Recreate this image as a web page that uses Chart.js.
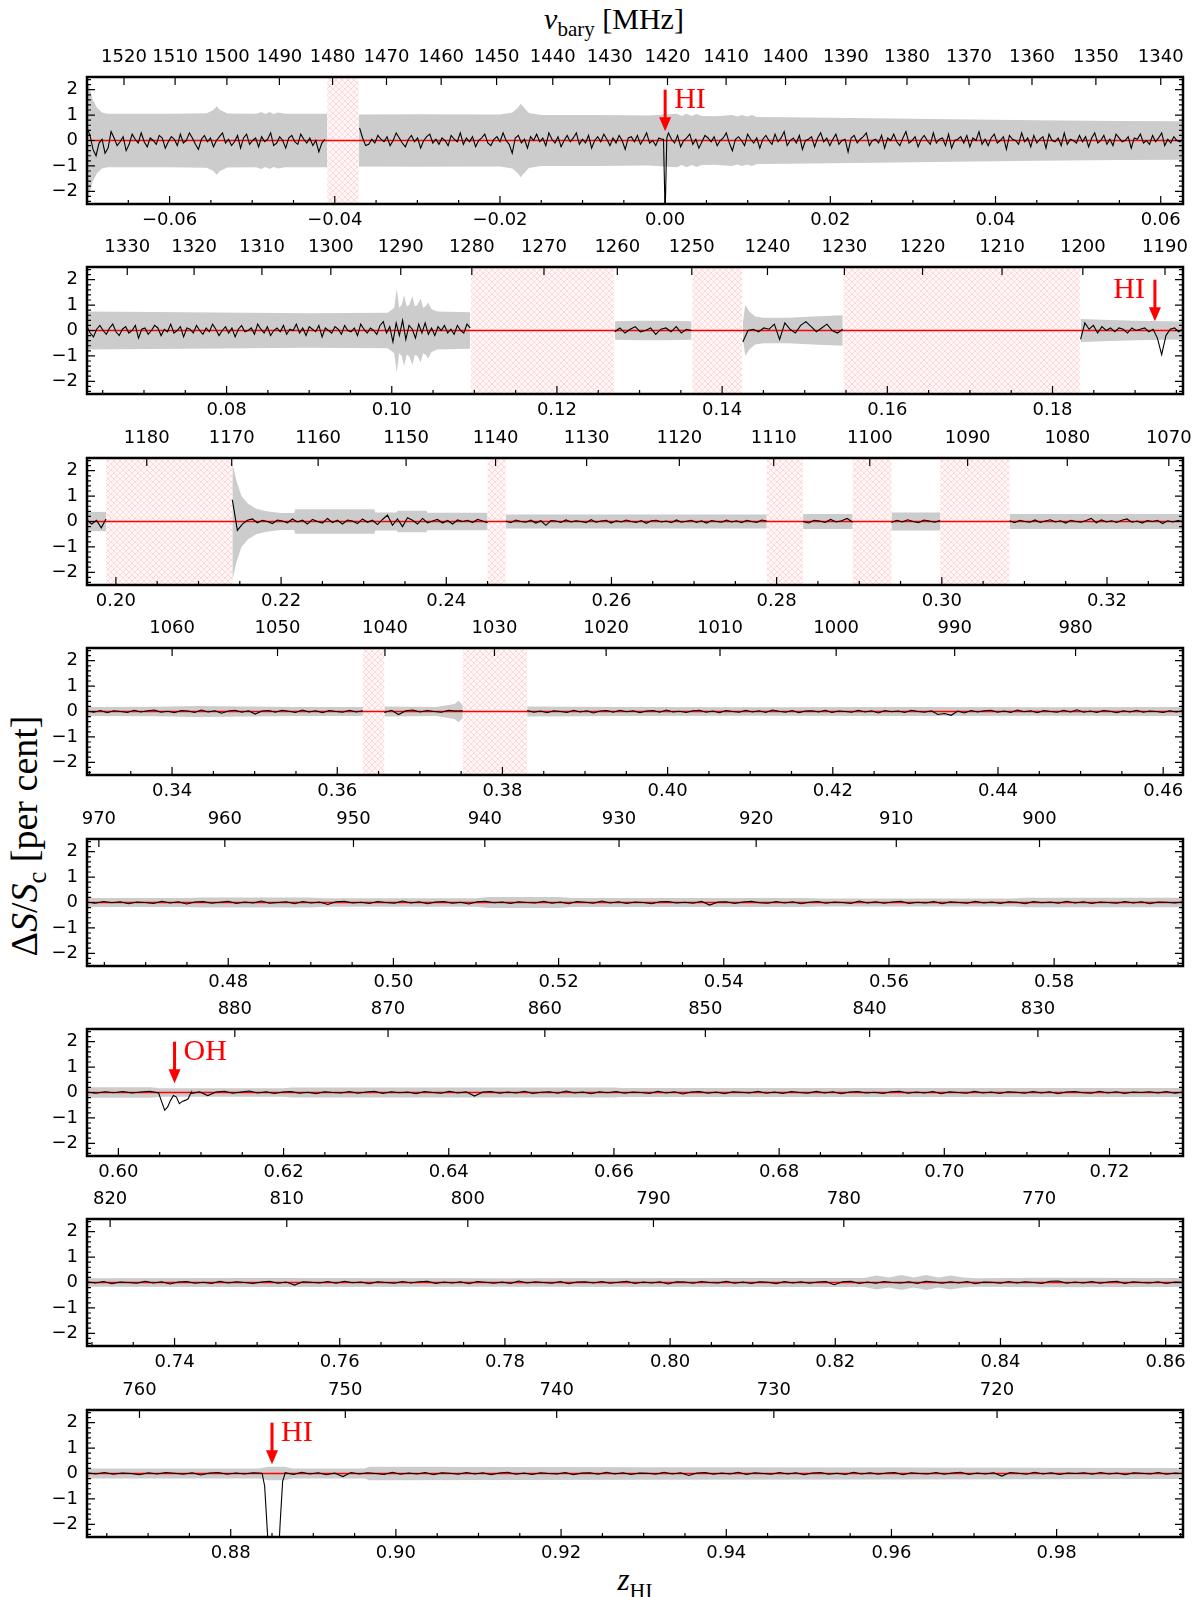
<!DOCTYPE html>
<html>
<head>
<meta charset="utf-8">
<script src="https://cdn.jsdelivr.net/npm/chart.js@4.4.1/dist/chart.umd.min.js"></script>
<style>
  html, body { margin: 0; padding: 0; background: #fff; }
  body { width: 1200px; height: 1597px; position: relative; overflow: hidden; }
  canvas.panel { position: absolute; left: 0; }
  .lbl { position: absolute; font-family: "Liberation Serif", serif; color: #000; white-space: nowrap; transform: translate(-50%, -50%); }
  .lbl .sub { font-size: 0.7em; position: relative; top: 0.35em; }
</style>
</head>
<body>
<div class="lbl" style="left:614px; top:19px; font-size:30px;"><i>ν</i><span class="sub">bary</span> [MHz]</div>
<div class="lbl" style="left:24px; top:836px; font-size:38px; transform:translate(-50%,-50%) rotate(-90deg);">Δ<i>S</i>/<i>S</i><span class="sub">c</span> [per cent]</div>
<div class="lbl" style="left:635px; top:1580px; font-size:31px;"><i>z</i><span class="sub">HI</span></div>
<script>
const NU0 = 1420.405751; // HI rest frequency, MHz

// redshift range of the eight panels
const zLo = [-0.0700, 0.0631, 0.1965, 0.3297, 0.4629, 0.5962, 0.7294, 0.8626];
const zHi = [0.0627, 0.1958, 0.3292, 0.4624, 0.5956, 0.7289, 0.8621, 0.9953];

// ticks
const zTickStep = 0.02;
const zMinorStep = 0.005;
const freqTickStep = 10;
const yTicks = [-2, -1, 0, 1, 2];
const yMinorStep = 0.2;

// spectrum pieces: [z start, z end] and the values between
const spec1Z = [[-0.0700, -0.0412], [-0.0370, -0.0004], [-0.0002, 0.0002], [0.0004, 0.0627]];
const spec1 = [
  [0.5, 0.2, -0.35, -0.6, -0.1, 0.05, -0.5, -0.3, 0.35, 0.1, -0.2, -0.05, 0.15, -0.4, -0.15, 0.25, 0.05, -0.1, 0.3, -0.05,
   -0.25, 0.1, 0.0, -0.15, 0.2, 0.1, -0.3, -0.05, 0.15, 0.05, -0.2, 0.25, -0.1, 0.0, 0.3, 0.1, -0.15, -0.35, 0.05, 0.2,
   -0.05, 0.1, -0.25, 0.0, 0.15, 0.3, -0.1, 0.05, -0.2, -0.05, 0.2, -0.3, 0.1, 0.25, -0.15, 0.0, 0.1, -0.25, 0.15, -0.05,
   0.05, 0.3, -0.2, -0.1, 0.15, 0.0, -0.3, 0.1, 0.2, -0.05, -0.15, 0.25, 0.05, -0.1, 0.1, -0.2, 0.0, -0.45, -0.1, 0.05],
  [0.5, 0.1, -0.2, -0.15, 0.05, -0.1, 0.2, 0.05, -0.05, 0.15, -0.2, 0.0, 0.3, 0.1, -0.1, -0.25, 0.05, 0.2, -0.05, 0.1,
   -0.3, 0.0, 0.15, 0.25, -0.1, 0.05, -0.15, 0.1, 0.0, -0.2, 0.2, 0.05, -0.05, 0.3, -0.15, 0.1, -0.05, 0.15, -0.25, 0.0,
   0.1, 0.25, -0.1, -0.2, 0.05, 0.15, -0.05, 0.3, 0.0, -0.15, -0.5, 0.1, 0.2, -0.1, 0.05, -0.3, 0.15, 0.0, 0.25, -0.05,
   0.1, -0.2, 0.3, 0.05, -0.1, 0.15, -0.25, 0.0, 0.2, -0.05, 0.1, 0.3, -0.15, 0.05, -0.1, 0.2, -0.3, 0.0, 0.15, -0.05,
   0.25, 0.05, -0.2, 0.1, -0.1, 0.2, 0.0, -0.35, 0.1, 0.15, -0.05, 0.2, -0.15, 0.05, 0.3, -0.1, 0.0, -0.2, 0.1, 0.05],
  [0.05, -2.9, 0.1],
  [0.3, 0.05, -0.1, 0.2, -0.25, 0.0, 0.1, 0.25, -0.15, 0.05, -0.3, -0.05, 0.2, 0.1, -0.05, 0.15, -0.2, 0.0, 0.1, 0.3,
   -0.1, -0.4, 0.05, 0.15, 0.0, -0.2, 0.25, 0.05, -0.1, 0.1, -0.3, 0.05, 0.2, 0.0, -0.15, 0.25, -0.05, 0.1, 0.35, -0.2,
   0.0, 0.1, -0.1, 0.2, -0.35, 0.0, 0.05, 0.15, -0.25, 0.1, 0.3, -0.05, 0.1, -0.2, 0.05, 0.25, -0.15, 0.0, 0.05, -0.45,
   0.1, 0.2, -0.1, 0.05, 0.15, 0.3, -0.2, 0.0, 0.05, -0.1, 0.2, -0.3, 0.1, 0.0, 0.25, -0.05, -0.2, 0.1, 0.35, -0.1,
   0.0, 0.15, -0.25, 0.05, 0.2, 0.0, -0.15, 0.3, -0.1, 0.05, 0.1, -0.2, 0.25, -0.3, 0.0, 0.05, 0.15, -0.1, 0.2, -0.25,
   0.1, 0.0, 0.35, -0.15, 0.05, -0.2, 0.1, 0.25, -0.1, 0.0, 0.15, -0.35, 0.2, 0.05, 0.0, -0.15, 0.3, -0.05, 0.1, -0.25,
   0.2, -0.1, 0.05, 0.15, -0.3, 0.25, 0.0, -0.05, 0.1, -0.2, 0.3, -0.15, 0.05, 0.0, -0.1, 0.2, -0.05, 0.15, -0.25, 0.1,
   0.3, -0.1, 0.0, 0.2, -0.15, 0.05, -0.2, 0.25, 0.1, -0.05, 0.0, 0.15, -0.3, 0.1, 0.05, 0.25, -0.1, 0.0, -0.15, 0.2,
   -0.05, 0.1, 0.3, -0.2, 0.05, -0.1, 0.15, 0.0, -0.05, 0.05]
];
const spec2Z = [[0.0631, 0.1095], [0.1270, 0.1363], [0.1425, 0.1546], [0.1834, 0.1958]];
const spec2 = [
  [0.15, -0.1, -0.25, 0.05, 0.2, 0.0, -0.15, 0.1, 0.25, -0.05, -0.2, 0.05, 0.15, -0.1, 0.0, 0.2, -0.3, 0.05, 0.1, -0.15,
   0.0, 0.2, 0.1, -0.2, 0.05, -0.05, 0.25, -0.1, 0.0, 0.15, -0.25, 0.1, 0.05, -0.1, 0.2, 0.0, -0.15, 0.1, -0.05, 0.25,
   0.05, -0.2, 0.0, 0.15, -0.1, 0.1, -0.25, 0.05, 0.2, -0.05, 0.0, 0.1, -0.15, 0.25, 0.05, -0.1, 0.15, -0.2, 0.0, 0.1,
   -0.05, 0.2, -0.15, 0.05, 0.0, 0.25, -0.1, 0.1, -0.2, 0.15, 0.05, -0.05, 0.2, -0.25, 0.1, 0.0, -0.1, 0.15, 0.05, -0.15,
   0.2, 0.0, -0.05, 0.1, -0.2, 0.25, 0.05, -0.1, 0.1, 0.0, -0.15, 0.2, 0.35, -0.1, 0.15, -0.45, 0.3, -0.2, 0.4, -0.35,
   0.2, 0.05, -0.3, 0.25, -0.1, 0.3, -0.15, 0.1, -0.2, 0.15, 0.0, 0.2, -0.1, 0.05, -0.15, 0.2, 0.0, -0.1, 0.25, 0.1],
  [-0.05, 0.1, -0.1, 0.05, 0.15, -0.05, 0.0, 0.1, -0.15, 0.05, 0.1, -0.05, 0.15, -0.1, 0.05, 0.0],
  [-0.45, 0.0, 0.05, -0.05, 0.1, 0.05, 0.25, -0.35, 0.3, 0.05, -0.1, 0.2, 0.35, 0.15, -0.05, 0.1, 0.25, 0.0, -0.1, 0.05],
  [-0.35, 0.3, 0.05, 0.2, -0.1, 0.15, 0.0, 0.1, -0.05, 0.1, 0.05, -0.1, 0.1, 0.0, 0.05, 0.1, -0.05, 0.05, -0.3, -0.95,
   -0.2, 0.05, 0.1, -0.05, 0.05]
];
const spec3Z = [[0.1965, 0.1988], [0.2141, 0.2450], [0.2472, 0.2788], [0.2832, 0.2892], [0.2939, 0.2998], [0.3082, 0.3292]];
const spec3 = [
  [0.05, -0.1, 0.05, -0.25, 0.1],
  [0.85, -0.35, -0.1, 0.05, 0.1, -0.05, 0.05, 0.0, -0.08, 0.06, 0.02, -0.05, 0.1, -0.02, 0.05, -0.1, 0.08, 0.0, -0.06, 0.12,
   -0.04, 0.05, -0.1, 0.06, 0.02, -0.08, 0.1, -0.03, 0.05, -0.12, 0.08, 0.25, -0.15, 0.1, -0.2, 0.15, 0.05, -0.1, 0.12, -0.05,
   0.02, 0.08, -0.06, 0.04, -0.1, 0.06, 0.0, 0.05, -0.04, 0.08, 0.02, -0.05],
  [0.02, -0.05, 0.06, 0.0, -0.03, 0.05, -0.06, 0.03, -0.15, 0.04, 0.02, -0.04, 0.06, -0.02, 0.03, 0.0, -0.05, 0.07, -0.03, 0.02,
   0.05, -0.06, 0.03, -0.02, 0.06, 0.0, -0.04, 0.04, -0.07, 0.03, 0.05, -0.02, 0.02, -0.05, 0.06, -0.03, 0.01, 0.05, -0.04, 0.03,
   -0.06, 0.04, 0.0, -0.03, 0.06, -0.02, 0.03, -0.05, 0.05, 0.0, -0.04, 0.06, 0.02],
  [0.0, -0.06, 0.05, 0.02, -0.04, 0.08, -0.02, 0.03, 0.12, -0.03],
  [-0.04, 0.05, -0.02, 0.07, 0.0, -0.05, 0.06, 0.02, -0.03, 0.04],
  [0.03, -0.05, 0.05, 0.0, -0.03, 0.06, -0.04, 0.02, 0.07, -0.02, 0.03, -0.06, 0.05, 0.0, -0.03, 0.04, 0.12, -0.05, 0.06, -0.02,
   0.03, -0.04, 0.05, 0.1, -0.03, 0.02, -0.06, 0.04, 0.0, 0.05, -0.08, 0.03, -0.02, 0.04, 0.0]
];
const spec4Z = [[0.3297, 0.3631], [0.3657, 0.3752], [0.3830, 0.4624]];
const spec4 = [
  [0.02, -0.03, 0.04, -0.05, 0.03, 0.0, -0.04, 0.05, -0.02, 0.03, 0.06, -0.03, 0.01, -0.05, 0.04, 0.02, -0.04, 0.06, -0.02, 0.03,
   -0.07, 0.02, 0.05, -0.03, 0.03, -0.1, 0.02, 0.04, -0.03, 0.05, 0.01, -0.04, 0.06, -0.02, 0.03, -0.05, 0.04, 0.0, -0.03, 0.05,
   -0.02, 0.03],
  [-0.04, 0.05, -0.12, 0.03, 0.06, -0.02, 0.04, 0.0, -0.03, 0.05, 0.02, 0.03],
  [0.04, -0.03, 0.02, -0.05, 0.03, 0.0, -0.04, 0.05, -0.02, 0.03, -0.06, 0.02, 0.04, -0.03, 0.05, -0.01, 0.03, -0.05, 0.02, 0.04,
   -0.03, 0.06, -0.02, 0.01, -0.04, 0.03, 0.05, -0.03, 0.02, -0.05, 0.04, 0.0, -0.03, 0.05, -0.02, 0.03, -0.04, 0.06, 0.01, -0.03,
   0.04, -0.05, 0.02, 0.03, -0.02, 0.05, -0.04, 0.02, 0.0, -0.03, 0.05, -0.02, 0.03, -0.06, 0.04, -0.01, 0.02, -0.04, 0.05, 0.0,
   -0.03, 0.03, -0.12, -0.08, -0.15, 0.02, -0.06, 0.04, -0.02, 0.03, 0.05, -0.03, 0.02, -0.04, 0.06, -0.01, 0.03, -0.05, 0.04, 0.0,
   -0.03, 0.05, -0.02, 0.07, -0.03, 0.02, -0.04, 0.04, 0.01, -0.05, 0.03, -0.02, 0.05, -0.03, 0.02, 0.0, -0.04, 0.03, -0.02, 0.04]
];
const spec5Z = [[0.4629, 0.5956]];
const spec5 = [
  [0.02, -0.03, 0.04, -0.01, 0.03, -0.05, 0.02, 0.0, -0.04, 0.05, -0.02, 0.03, -0.06, 0.02, 0.04, -0.03, 0.01, 0.05, -0.04, 0.02,
   -0.02, 0.06, -0.03, 0.0, 0.03, -0.05, 0.04, -0.02, 0.02, -0.08, 0.03, 0.05, -0.02, 0.01, -0.04, 0.04, 0.0, -0.03, 0.06, -0.02,
   0.03, -0.05, 0.02, 0.04, -0.03, 0.01, -0.06, 0.03, 0.05, -0.01, 0.02, -0.04, 0.03, 0.0, -0.02, 0.05, -0.03, 0.02, -0.05, 0.04,
   0.01, -0.03, 0.06, -0.02, 0.03, -0.04, 0.02, 0.0, -0.05, 0.03, 0.04, -0.02, 0.01, -0.03, 0.05, -0.1, 0.02, 0.03, -0.04, 0.02,
   0.05, -0.01, -0.03, 0.04, -0.02, 0.03, -0.05, 0.01, 0.04, -0.03, 0.02, 0.0, -0.04, 0.06, -0.02, 0.03, -0.03, 0.02, 0.05, -0.04,
   0.01, -0.02, 0.04, -0.05, 0.03, 0.0, -0.03, 0.05, -0.02, 0.02, -0.04, 0.03, 0.01, -0.05, 0.04, -0.01, 0.02, -0.03, 0.05, -0.02,
   0.03, -0.04, 0.02, 0.0, -0.03, 0.04, -0.02, 0.03, -0.05, 0.02, 0.01, -0.02, 0.03]
];
const spec6Z = [[0.5962, 0.6049], [0.6049, 0.6088], [0.6088, 0.7289]];
const spec6 = [
  [0.02, -0.03, 0.03, -0.01, 0.04, -0.02, 0.02, 0.05, -0.02],
  [-0.05, -0.38, -0.70, -0.57, -0.31, -0.12, -0.18, -0.44, -0.35, -0.31, -0.25, 0.0],
  [-0.04, 0.03, -0.12, 0.02, 0.05, -0.03, 0.02, 0.06, -0.02, 0.03, -0.04, 0.02, 0.04, -0.03, 0.01, -0.05, 0.03, 0.0, -0.02, 0.04,
   -0.03, 0.02, 0.05, -0.04, 0.03, -0.01, 0.02, -0.05, 0.04, 0.0, -0.03, 0.05, -0.02, 0.03, -0.14, 0.02, 0.04, -0.03, 0.02, -0.02,
   0.05, -0.04, 0.01, 0.03, -0.03, 0.06, -0.02, 0.02, -0.05, 0.03, -0.01, 0.04, -0.03, 0.02, 0.0, -0.04, 0.05, -0.02, 0.03, -0.06,
   0.02, 0.04, -0.03, 0.02, -0.05, 0.03, 0.01, -0.02, 0.05, -0.03, 0.02, -0.04, 0.04, 0.0, -0.03, 0.05, -0.02, 0.03, -0.05, 0.02,
   0.04, -0.02, 0.01, -0.04, 0.03, 0.05, -0.03, 0.02, -0.02, 0.04, -0.05, 0.03, 0.0, -0.03, 0.05, -0.02, 0.02, -0.04, 0.03, 0.01,
   -0.03, 0.04, -0.02, 0.03, -0.05, 0.02, 0.04, -0.01, -0.03, 0.05, -0.02, 0.03, -0.04, 0.02, 0.0, 0.03, -0.02, 0.04, -0.03, 0.02]
];
const spec7Z = [[0.7294, 0.8621]];
const spec7 = [
  [0.03, -0.02, 0.04, -0.05, 0.02, 0.0, -0.03, 0.05, -0.02, 0.03, -0.06, 0.02, 0.04, -0.03, 0.01, -0.04, 0.05, -0.02, 0.03, 0.0,
   -0.04, 0.02, 0.05, -0.03, 0.02, -0.1, 0.03, 0.01, -0.02, 0.04, -0.03, 0.05, -0.01, 0.02, -0.05, 0.03, 0.0, -0.03, 0.04, -0.02,
   0.03, 0.05, -0.04, 0.02, -0.02, 0.03, -0.05, 0.04, 0.01, -0.03, 0.02, -0.04, 0.06, -0.02, 0.03, 0.0, -0.03, 0.04, -0.05, 0.02,
   0.03, -0.02, 0.04, -0.03, 0.01, 0.05, -0.04, 0.02, -0.02, 0.03, -0.06, 0.03, 0.02, -0.03, 0.04, 0.0, -0.02, 0.05, -0.03, 0.02,
   -0.04, 0.03, 0.01, -0.05, 0.04, -0.02, 0.03, -0.03, 0.02, 0.04, -0.09, 0.03, 0.05, -0.04, 0.02, -0.03, 0.04, 0.0, -0.02, 0.03,
   -0.04, 0.05, 0.02, -0.03, 0.03, -0.02, 0.04, -0.05, 0.02, 0.01, -0.03, 0.04, -0.02, 0.03, 0.0, -0.04, 0.05, 0.06, -0.03, 0.02,
   -0.02, 0.04, -0.03, 0.02, 0.05, -0.04, 0.03, 0.0, -0.02, 0.03, -0.04, 0.02, 0.01]
];
const spec8Z = [[0.8626, 0.8838], [0.8838, 0.8866], [0.8866, 0.9953]];
const spec8 = [
  [0.03, -0.02, 0.04, -0.03, 0.02, 0.0, -0.05, 0.03, -0.02, 0.04, 0.01, -0.03, 0.03, -0.06, 0.02, 0.04, -0.03, 0.02, -0.02, 0.03, 0.01],
  [0.02, -0.5, -2.2, -4.0, -4.0, -4.0, -4.0, -2.0, -0.3, 0.02],
  [0.03, -0.04, 0.05, -0.02, 0.03, -0.05, 0.02, -0.12, 0.04, -0.02, 0.03, 0.0, -0.04, 0.05, -0.03, 0.02, -0.02, 0.04, -0.05, 0.03,
   0.01, -0.03, 0.04, -0.02, 0.03, -0.05, 0.02, 0.05, -0.03, 0.02, -0.04, 0.03, 0.0, -0.02, 0.04, -0.05, 0.02, 0.03, -0.03, 0.05,
   -0.02, 0.03, -0.04, 0.02, 0.01, -0.03, 0.05, -0.02, 0.03, -0.08, 0.02, 0.04, -0.03, 0.02, -0.02, 0.05, -0.04, 0.03, 0.0, -0.03,
   0.04, -0.02, 0.03, -0.05, 0.02, 0.04, -0.03, 0.01, -0.04, 0.05, -0.02, 0.03, -0.03, 0.02, 0.04, -0.05, 0.03, 0.0, -0.02, 0.04,
   -0.03, 0.02, 0.05, -0.04, 0.02, -0.02, 0.03, -0.1, 0.04, 0.01, -0.03, 0.05, -0.02, 0.03, -0.04, 0.02, 0.0, 0.03, -0.03, 0.04,
   -0.02, 0.02, -0.05, 0.03, 0.01, -0.02, 0.04, -0.03, 0.02, 0.0]
];

// 1-sigma noise envelope (half width, per cent) at given redshifts
const band1Z = [
  [-0.0700, -0.0697, -0.0693, -0.0688, -0.0682, -0.0675, -0.0600, -0.0555, -0.0547, -0.0543, -0.0539, -0.0530,
   -0.0495, -0.0489, -0.0484, -0.0479, -0.0474, -0.0469, -0.0460, -0.0409],
  [-0.0371, -0.0300, -0.0200, -0.0185, -0.0178, -0.0175, -0.0171, -0.0165, -0.0150, -0.0080, -0.0020, 0.0014, 0.0020,
   0.0026, 0.0032, 0.0038, 0.0044, 0.0060, 0.0081, 0.0087, 0.0093, 0.0099, 0.0105, 0.0111, 0.0150, 0.0250, 0.0350,
   0.0450, 0.0550, 0.0627]
];
const band1W = [
  [2.4, 2.1, 1.6, 1.3, 1.1, 1.05, 1.05, 1.07, 1.2, 1.35, 1.2, 1.06, 1.05, 1.12, 1.04, 1.12, 1.04, 1.1, 1.05, 1.05],
  [1.02, 1.03, 1.02, 1.1, 1.3, 1.45, 1.3, 1.08, 1.0, 1.0, 0.98, 1.05, 0.96, 1.05, 0.96, 1.04, 0.96, 0.95, 1.0, 0.94,
   1.0, 0.94, 1.0, 0.93, 0.92, 0.88, 0.84, 0.8, 0.77, 0.76]
];
const band2Z = [
  [0.0631, 0.0750, 0.0900, 0.0995, 0.1003, 0.1006, 0.1009, 0.1012, 0.1015, 0.1018, 0.1021, 0.1025, 0.1028, 0.1031,
   0.1035, 0.1038, 0.1041, 0.1044, 0.1048, 0.1055, 0.1095],
  [0.1270, 0.1300, 0.1330, 0.1363],
  [0.1425, 0.1428, 0.1433, 0.1440, 0.1450, 0.1480, 0.1510, 0.1546],
  [0.1834, 0.1860, 0.1900, 0.1958]
];
const band2W = [
  [0.75, 0.72, 0.68, 0.7, 0.9, 1.65, 0.9, 1.0, 1.4, 0.95, 1.0, 1.35, 0.95, 1.0, 1.25, 0.9, 0.95, 1.1, 0.85, 0.75, 0.72],
  [0.36, 0.38, 0.38, 0.36],
  [0.3, 1.0, 0.75, 0.55, 0.5, 0.5, 0.55, 0.6],
  [0.45, 0.42, 0.38, 0.35]
];
const band3Z = [
  [0.1965, 0.1988],
  [0.2141, 0.2146, 0.2152, 0.2160, 0.2170, 0.2182, 0.2200, 0.2216, 0.2217, 0.2313, 0.2314, 0.2340, 0.2341, 0.2376,
   0.2377, 0.2450],
  [0.2472, 0.2788], [0.2832, 0.2892], [0.2939, 0.2998], [0.3082, 0.3292]
];
const band3W = [
  [0.38, 0.38],
  [2.3, 1.6, 1.0, 0.7, 0.5, 0.4, 0.33, 0.33, 0.48, 0.48, 0.35, 0.35, 0.42, 0.42, 0.34, 0.34],
  [0.28, 0.28], [0.3, 0.3], [0.35, 0.35], [0.3, 0.3]
];
const band4Z = [
  [0.3297, 0.3380, 0.3430, 0.3490, 0.3550, 0.3631],
  [0.3657, 0.3720, 0.3742, 0.3747, 0.3752],
  [0.3830, 0.3950, 0.4100, 0.4300, 0.4450, 0.4624]
];
const band4W = [
  [0.18, 0.19, 0.22, 0.2, 0.18, 0.18],
  [0.2, 0.18, 0.3, 0.42, 0.25],
  [0.2, 0.18, 0.17, 0.18, 0.17, 0.18]
];
const band5Z = [[0.4629, 0.4750, 0.4765, 0.4900, 0.4915, 0.5100, 0.5115, 0.5200, 0.5215, 0.5500, 0.5515, 0.5750, 0.5765, 0.5956]];
const band5W = [[0.18, 0.18, 0.2, 0.2, 0.17, 0.17, 0.22, 0.22, 0.18, 0.18, 0.16, 0.16, 0.19, 0.19]];
const band6Z = [[0.5962, 0.6040, 0.6050, 0.6200, 0.6210, 0.6600, 0.6610, 0.7289]];
const band6W = [[0.21, 0.21, 0.17, 0.17, 0.2, 0.2, 0.18, 0.18]];
const band7Z = [[0.7294, 0.7500, 0.7800, 0.8100, 0.8235, 0.8250, 0.8265, 0.8280, 0.8295, 0.8310, 0.8325, 0.8340,
  0.8355, 0.8370, 0.8450, 0.8621]];
const band7W = [[0.17, 0.18, 0.17, 0.18, 0.18, 0.28, 0.2, 0.3, 0.2, 0.3, 0.2, 0.28, 0.2, 0.17, 0.19, 0.18]];
const band8Z = [[0.8626, 0.8835, 0.8845, 0.8865, 0.8875, 0.8962, 0.8968, 0.9300, 0.9600, 0.9953]];
const band8W = [[0.2, 0.2, 0.27, 0.27, 0.2, 0.2, 0.27, 0.25, 0.24, 0.22]];

// flagged (RFI) ranges
const mask1 = [[-0.0409, -0.0371]];
const mask2 = [[0.1096, 0.1269], [0.1364, 0.1424], [0.1547, 0.1833]];
const mask3 = [[0.1988, 0.2141], [0.2450, 0.2472], [0.2788, 0.2832], [0.2892, 0.2939], [0.2998, 0.3082]];
const mask4 = [[0.3631, 0.3657], [0.3752, 0.3830]];

// marked lines
const lineZ = [0.0000, 0.1924, 0.6068, 0.8850];
const lineName = ["HI", "HI", "OH", "HI"];
const linePanel = [0, 1, 5, 7];
const lineSide = ["right", "left", "right", "right"];

const specZ = [spec1Z, spec2Z, spec3Z, spec4Z, spec5Z, spec6Z, spec7Z, spec8Z];
const specV = [spec1, spec2, spec3, spec4, spec5, spec6, spec7, spec8];
const bandZ = [band1Z, band2Z, band3Z, band4Z, band5Z, band6Z, band7Z, band8Z];
const bandW = [band1W, band2W, band3W, band4W, band5W, band6W, band7W, band8W];
const masks = [mask1, mask2, mask3, mask4, [], [], [], []];

// layout
const plotTop0 = 77, plotStep = 190.4;
const padTop = 45, padBottom = 35, padLeft = 87, padRight = 47;
const canvasW = 1230, canvasH = 207;

Chart.defaults.font.family = "'DejaVu Sans', sans-serif";
Chart.defaults.color = "#000";

const hatchTile = document.createElement("canvas");
hatchTile.width = 6; hatchTile.height = 6;
(function () {
  const c = hatchTile.getContext("2d");
  c.fillStyle = "#fff7f7";
  c.fillRect(0, 0, 6, 6);
  c.strokeStyle = "rgba(255,140,140,0.4)";
  c.lineWidth = 0.7;
  c.beginPath();
  c.moveTo(0, 0); c.lineTo(6, 6);
  c.moveTo(6, 0); c.lineTo(0, 6);
  c.stroke();
})();

const piecesToPoints = (bounds, pieces) => {
  const pts = [];
  pieces.forEach((vals, i) => {
    const [z0, z1] = bounds[i];
    if (i > 0 && z0 - bounds[i - 1][1] > 0.0005) pts.push({x: (z0 + bounds[i - 1][1]) / 2, y: null});
    const step = (z1 - z0) / (vals.length - 1);
    vals.forEach((v, j) => pts.push({x: z0 + j * step, y: v}));
  });
  return pts;
};

const stepTicks = (min, max, step) => {
  const out = [];
  for (let k = Math.ceil(min / step - 1e-9); k * step <= max + 1e-9; k++) out.push({value: +(k * step).toFixed(6)});
  return out;
};

const freqTicks = (min, max) => {
  const out = [];
  const fHi = Math.floor(NU0 / (1 + min) / freqTickStep) * freqTickStep;
  for (let f = fHi; NU0 / f - 1 <= max; f -= freqTickStep) out.push({value: NU0 / f - 1});
  return out;
};

const minus = s => s.replace("-", "\u2212");
const fmtZ = v => Math.abs(v) < 1e-9 ? "0.00" : minus(v.toFixed(2));
const fmtY = v => minus(String(v));

const deco = {
  id: "deco",
  beforeDatasetsDraw(chart, args, opts) {
    const {ctx, chartArea: a, scales: {x}} = chart;
    ctx.save();
    ctx.fillStyle = ctx.createPattern(hatchTile, "repeat");
    opts.masks.forEach(([z0, z1]) => {
      const x0 = x.getPixelForValue(z0), x1 = x.getPixelForValue(z1);
      ctx.fillRect(x0, a.top, x1 - x0, a.bottom - a.top);
    });
    ctx.restore();
  },
  afterDraw(chart, args, opts) {
    const {ctx, chartArea: a, scales: {x, x2, y}} = chart;
    ctx.save();

    // line markers
    opts.arrows.forEach(ar => {
      const px = x.getPixelForValue(ar.z);
      const yTop = y.getPixelForValue(2.0), yTip = y.getPixelForValue(0.36);
      ctx.strokeStyle = "#ff0000";
      ctx.fillStyle = "#ff0000";
      ctx.lineWidth = 3;
      ctx.beginPath();
      ctx.moveTo(px, yTop);
      ctx.lineTo(px, yTip - 12);
      ctx.stroke();
      ctx.beginPath();
      ctx.moveTo(px - 6, yTip - 14);
      ctx.lineTo(px + 6, yTip - 14);
      ctx.lineTo(px, yTip);
      ctx.closePath();
      ctx.fill();
      ctx.font = "30px 'Liberation Serif', serif";
      ctx.textBaseline = "middle";
      ctx.textAlign = ar.side === "left" ? "right" : "left";
      ctx.fillText(ar.name, px + (ar.side === "left" ? -10 : 9), y.getPixelForValue(1.58));
    });

    // inward ticks
    ctx.strokeStyle = "#000";
    ctx.lineWidth = 1.2;
    ctx.beginPath();
    x.ticks.forEach(t => {
      const px = x.getPixelForValue(t.value);
      ctx.moveTo(px, a.bottom); ctx.lineTo(px, a.bottom - 8);
    });
    stepTicks(x.min, x.max, zMinorStep).forEach(t => {
      const px = x.getPixelForValue(t.value);
      ctx.moveTo(px, a.bottom); ctx.lineTo(px, a.bottom - 4);
    });
    x2.ticks.forEach(t => {
      const px = x2.getPixelForValue(t.value);
      ctx.moveTo(px, a.top); ctx.lineTo(px, a.top + 8);
    });
    y.ticks.forEach(t => {
      const py = y.getPixelForValue(t.value);
      ctx.moveTo(a.left, py); ctx.lineTo(a.left + 8, py);
      ctx.moveTo(a.right, py); ctx.lineTo(a.right - 8, py);
    });
    stepTicks(y.min, y.max, yMinorStep).forEach(t => {
      const py = y.getPixelForValue(t.value);
      ctx.moveTo(a.left, py); ctx.lineTo(a.left + 4, py);
      ctx.moveTo(a.right, py); ctx.lineTo(a.right - 4, py);
    });
    ctx.stroke();

    // frame
    ctx.lineWidth = 2.5;
    ctx.strokeRect(a.left, a.top, a.right - a.left, a.bottom - a.top);
    ctx.restore();
  }
};

for (let p = 0; p < 8; p++) {
  const cv = document.createElement("canvas");
  cv.className = "panel";
  cv.width = canvasW;
  cv.height = canvasH;
  cv.style.top = (plotTop0 + p * plotStep - padTop) + "px";
  document.body.appendChild(cv);

  const datasets = [];
  bandZ[p].forEach((zs, i) => {
    const w = bandW[p][i];
    datasets.push({data: zs.map((z, j) => ({x: z, y: w[j]})), fill: "+1", backgroundColor: "#cccccc",
      borderColor: "rgba(0,0,0,0)", borderWidth: 0, pointRadius: 0, order: 3});
    datasets.push({data: zs.map((z, j) => ({x: z, y: -w[j]})), fill: false,
      borderColor: "rgba(0,0,0,0)", borderWidth: 0, pointRadius: 0, order: 3});
  });
  datasets.push({data: [{x: zLo[p], y: 0}, {x: zHi[p], y: 0}], borderColor: "#ff0000", borderWidth: 1.4,
    pointRadius: 0, fill: false, order: 2});
  datasets.push({data: piecesToPoints(specZ[p], specV[p]), borderColor: "#000", borderWidth: 1.1,
    pointRadius: 0, fill: false, spanGaps: false, order: 1});

  const arrows = [];
  linePanel.forEach((lp, i) => {
    if (lp === p) arrows.push({z: lineZ[i], name: lineName[i], side: lineSide[i]});
  });

  const tickFont = {size: 18};
  new Chart(cv, {
    type: "line",
    data: {datasets},
    plugins: [deco],
    options: {
      responsive: false,
      animation: false,
      devicePixelRatio: 1,
      events: [],
      layout: {padding: 0},
      plugins: {
        legend: {display: false},
        tooltip: {enabled: false},
        deco: {masks: masks[p], arrows}
      },
      scales: {
        x: {
          type: "linear", position: "bottom", min: zLo[p], max: zHi[p],
          grid: {display: false, drawTicks: false}, border: {display: false},
          afterBuildTicks: s => { s.ticks = stepTicks(s.min, s.max, zTickStep); },
          afterFit: s => { s.height = padBottom; },
          ticks: {autoSkip: false, maxRotation: 0, padding: 6, font: tickFont, callback: v => fmtZ(v)}
        },
        x2: {
          type: "linear", position: "top", min: zLo[p], max: zHi[p],
          grid: {display: false, drawTicks: false}, border: {display: false},
          afterBuildTicks: s => { s.ticks = freqTicks(s.min, s.max); },
          afterFit: s => { s.height = padTop; },
          ticks: {autoSkip: false, maxRotation: 0, padding: 9, font: tickFont,
            callback: v => String(Math.round(NU0 / (1 + v)))}
        },
        y: {
          type: "linear", position: "left", min: -2.5, max: 2.5,
          grid: {display: false, drawTicks: false}, border: {display: false},
          afterBuildTicks: s => { s.ticks = yTicks.map(v => ({value: v})); },
          afterFit: s => { s.width = padLeft; },
          ticks: {padding: 9, font: tickFont, callback: v => fmtY(v)}
        },
        y2: {
          type: "linear", position: "right", min: -2.5, max: 2.5,
          grid: {display: false, drawTicks: false}, border: {display: false},
          ticks: {display: false},
          afterFit: s => { s.width = padRight; }
        }
      }
    }
  });
}
</script>
</body>
</html>
